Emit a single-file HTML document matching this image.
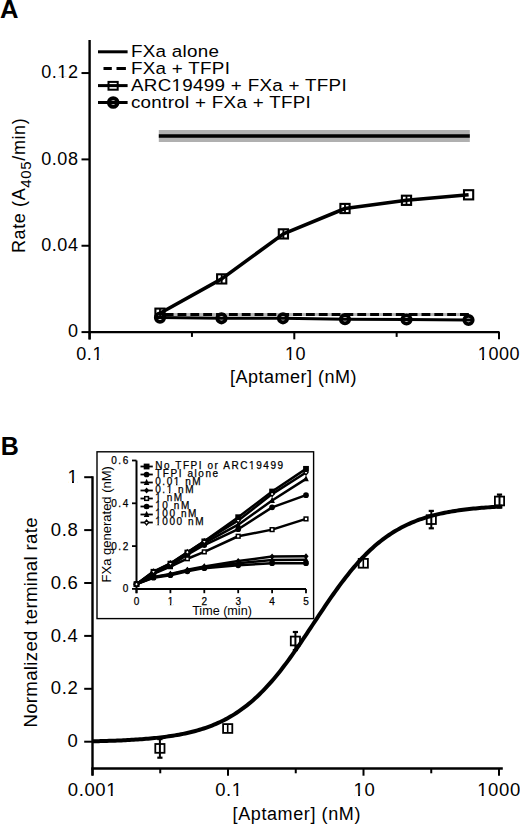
<!DOCTYPE html>
<html><head><meta charset="utf-8"><style>
html,body{margin:0;padding:0;background:#fff;}
body{width:520px;height:824px;overflow:hidden;}
svg{display:block;font-family:"Liberation Sans", sans-serif;}
text{fill:#000;}
</style></head><body>
<svg width="520" height="824" viewBox="0 0 520 824">
<defs><clipPath id="ct1" clipPathUnits="userSpaceOnUse"><path clip-rule="evenodd" d="M-2000,-2000 H4000 V4000 H-2000 Z M58.04,76.31 H61.74 V79.45 H58.04 Z M63.63,76.31 H67.20 V79.45 H63.63 Z"/></clipPath><clipPath id="ct2" clipPathUnits="userSpaceOnUse"><path clip-rule="evenodd" d="M-2000,-2000 H4000 V4000 H-2000 Z M93.06,357.76 H96.77 V360.90 H93.06 Z M98.66,357.76 H102.22 V360.90 H98.66 Z"/></clipPath><clipPath id="ct3" clipPathUnits="userSpaceOnUse"><path clip-rule="evenodd" d="M-2000,-2000 H4000 V4000 H-2000 Z M285.65,357.76 H289.36 V360.90 H285.65 Z M291.25,357.76 H294.81 V360.90 H291.25 Z"/></clipPath><clipPath id="ct4" clipPathUnits="userSpaceOnUse"><path clip-rule="evenodd" d="M-2000,-2000 H4000 V4000 H-2000 Z M478.44,357.76 H482.15 V360.90 H478.44 Z M484.04,357.76 H487.61 V360.90 H484.04 Z"/></clipPath><clipPath id="ctl" clipPathUnits="userSpaceOnUse"><path clip-rule="evenodd" d="M-2000,-2000 H4000 V4000 H-2000 Z M37.68,-1.78 H41.25 V1.30 H37.68 Z M43.07,-1.78 H46.50 V1.30 H43.07 Z"/></clipPath><clipPath id="ct5" clipPathUnits="userSpaceOnUse"><path clip-rule="evenodd" d="M-2000,-2000 H4000 V4000 H-2000 Z M68.22,480.92 H72.01 V484.10 H68.22 Z M73.95,480.92 H77.59 V484.10 H73.95 Z"/></clipPath><clipPath id="ct6" clipPathUnits="userSpaceOnUse"><path clip-rule="evenodd" d="M-2000,-2000 H4000 V4000 H-2000 Z M106.97,793.72 H110.76 V796.90 H106.97 Z M112.69,793.72 H116.34 V796.90 H112.69 Z"/></clipPath><clipPath id="ct7" clipPathUnits="userSpaceOnUse"><path clip-rule="evenodd" d="M-2000,-2000 H4000 V4000 H-2000 Z M232.57,793.72 H236.36 V796.90 H232.57 Z M238.30,793.72 H241.94 V796.90 H238.30 Z"/></clipPath><clipPath id="ct8" clipPathUnits="userSpaceOnUse"><path clip-rule="evenodd" d="M-2000,-2000 H4000 V4000 H-2000 Z M354.32,793.72 H358.11 V796.90 H354.32 Z M360.05,793.72 H363.69 V796.90 H360.05 Z"/></clipPath><clipPath id="ct9" clipPathUnits="userSpaceOnUse"><path clip-rule="evenodd" d="M-2000,-2000 H4000 V4000 H-2000 Z M477.93,793.72 H481.72 V796.90 H477.93 Z M483.66,793.72 H487.30 V796.90 H483.66 Z"/></clipPath><clipPath id="ct10" clipPathUnits="userSpaceOnUse"><path clip-rule="evenodd" d="M-2000,-2000 H4000 V4000 H-2000 Z M167.70,603.80 H169.93 V605.80 H167.70 Z M171.26,603.80 H173.41 V605.80 H171.26 Z"/></clipPath><clipPath id="ct11" clipPathUnits="userSpaceOnUse"><path clip-rule="evenodd" d="M-2000,-2000 H4000 V4000 H-2000 Z M249.15,467.70 H251.39 V469.70 H249.15 Z M252.71,467.70 H254.86 V469.70 H252.71 Z"/></clipPath><clipPath id="ct12" clipPathUnits="userSpaceOnUse"><path clip-rule="evenodd" d="M-2000,-2000 H4000 V4000 H-2000 Z M173.84,483.70 H176.07 V485.70 H173.84 Z M177.40,483.70 H179.55 V485.70 H177.40 Z"/></clipPath><clipPath id="ct13" clipPathUnits="userSpaceOnUse"><path clip-rule="evenodd" d="M-2000,-2000 H4000 V4000 H-2000 Z M166.71,491.70 H168.95 V493.70 H166.71 Z M170.27,491.70 H172.43 V493.70 H170.27 Z"/></clipPath><clipPath id="ct14" clipPathUnits="userSpaceOnUse"><path clip-rule="evenodd" d="M-2000,-2000 H4000 V4000 H-2000 Z M155.26,499.70 H157.49 V501.70 H155.26 Z M158.82,499.70 H160.97 V501.70 H158.82 Z"/></clipPath><clipPath id="ct15" clipPathUnits="userSpaceOnUse"><path clip-rule="evenodd" d="M-2000,-2000 H4000 V4000 H-2000 Z M155.26,507.70 H157.49 V509.70 H155.26 Z M158.82,507.70 H160.97 V509.70 H158.82 Z"/></clipPath><clipPath id="ct16" clipPathUnits="userSpaceOnUse"><path clip-rule="evenodd" d="M-2000,-2000 H4000 V4000 H-2000 Z M155.26,515.70 H157.49 V517.70 H155.26 Z M158.82,515.70 H160.97 V517.70 H158.82 Z"/></clipPath><clipPath id="ct17" clipPathUnits="userSpaceOnUse"><path clip-rule="evenodd" d="M-2000,-2000 H4000 V4000 H-2000 Z M155.26,523.70 H157.49 V525.70 H155.26 Z M158.82,523.70 H160.97 V525.70 H158.82 Z"/></clipPath></defs>
<rect width="520" height="824" fill="#fff"/>
<text x="0.1" y="17.8" font-size="25.6" text-anchor="start" letter-spacing="0" font-weight="bold" >A</text>
<line x1="89.6" y1="40" x2="89.6" y2="339.5" stroke="#000" stroke-width="2.4" />
<line x1="88.39999999999999" y1="332.1" x2="499.5" y2="332.1" stroke="#000" stroke-width="2.4" />
<line x1="81.5" y1="332.1" x2="89.6" y2="332.1" stroke="#000" stroke-width="2" />
<text x="78.6" y="337.20000000000005" font-size="18" text-anchor="end" letter-spacing="0.6" font-weight="normal" >0</text>
<line x1="81.5" y1="245.75000000000003" x2="89.6" y2="245.75000000000003" stroke="#000" stroke-width="2" />
<text x="78.6" y="250.85000000000002" font-size="18" text-anchor="end" letter-spacing="0.6" font-weight="normal" >0.04</text>
<line x1="81.5" y1="159.40000000000003" x2="89.6" y2="159.40000000000003" stroke="#000" stroke-width="2" />
<text x="78.6" y="164.50000000000003" font-size="18" text-anchor="end" letter-spacing="0.6" font-weight="normal" >0.08</text>
<line x1="81.5" y1="73.05000000000007" x2="89.6" y2="73.05000000000007" stroke="#000" stroke-width="2" />
<text x="78.6" y="78.15000000000006" font-size="18" text-anchor="end" letter-spacing="0.6" font-weight="normal"  id="t1" clip-path="url(#ct1)">0.12</text>
<line x1="89.6" y1="332.1" x2="89.6" y2="339.3" stroke="#000" stroke-width="2" />
<text x="89.6" y="359.6" font-size="18" text-anchor="middle" letter-spacing="0.6" font-weight="normal"  id="t2" clip-path="url(#ct2)">0.1</text>
<line x1="191.95" y1="332.1" x2="191.95" y2="336.90000000000003" stroke="#000" stroke-width="2" />
<line x1="294.29999999999995" y1="332.1" x2="294.29999999999995" y2="339.3" stroke="#000" stroke-width="2" />
<text x="295.59999999999997" y="359.6" font-size="18" text-anchor="middle" letter-spacing="0.6" font-weight="normal"  id="t3" clip-path="url(#ct3)">10</text>
<line x1="396.65" y1="332.1" x2="396.65" y2="336.90000000000003" stroke="#000" stroke-width="2" />
<line x1="499.0" y1="332.1" x2="499.0" y2="339.3" stroke="#000" stroke-width="2" />
<text x="499.0" y="359.6" font-size="18" text-anchor="middle" letter-spacing="0.6" font-weight="normal"  id="t4" clip-path="url(#ct4)">1000</text>
<text x="293.5" y="383" font-size="18" text-anchor="middle" letter-spacing="0.5" font-weight="normal" >[Aptamer] (nM)</text>
<text transform="translate(25.4,253) rotate(-90)" font-size="18" letter-spacing="0.62">Rate (A<tspan font-size="15" dy="5.4">405</tspan><tspan dy="-5.4">/min)</tspan></text>
<line x1="98" y1="51.8" x2="127.6" y2="51.8" stroke="#000" stroke-width="3" />
<line x1="103.5" y1="68.6" x2="126" y2="68.6" stroke="#000" stroke-width="3" stroke-dasharray="8.3 4.7 9.4 10"/>
<line x1="98" y1="85.6" x2="127.6" y2="85.6" stroke="#000" stroke-width="3" />
<rect x="108.5" y="81.89999999999999" width="9.2" height="7.8" fill="none" stroke="#000" stroke-width="2"/>
<line x1="98" y1="102.5" x2="127.6" y2="102.5" stroke="#000" stroke-width="3" />
<circle cx="113.2" cy="102.5" r="4.3" fill="none" stroke="#000" stroke-width="4"/>
<text transform="translate(130.9,57.099999999999994) scale(1.095,1)" font-size="17.2" letter-spacing="0.27">FXa alone</text>
<text transform="translate(130.9,73.89999999999999) scale(1.095,1)" font-size="17.2" letter-spacing="0.27">FXa + TFPI</text>
<text transform="translate(130.9,90.89999999999999) scale(1.095,1)" font-size="17.2" letter-spacing="0.27" id="tl" clip-path="url(#ctl)">ARC19499 + FXa + TFPI</text>
<text transform="translate(130.9,107.8) scale(1.095,1)" font-size="17.2" letter-spacing="0.27">control + FXa + TFPI</text>
<rect x="158.8" y="130" width="311" height="12" fill="#b0b0b0"/>
<line x1="158.8" y1="136" x2="469.8" y2="136" stroke="#000" stroke-width="3.6" />
<line x1="160" y1="314.6" x2="468.8" y2="314.6" stroke="#b8b8b8" stroke-width="3" />
<line x1="160" y1="314.6" x2="468.8" y2="314.6" stroke="#000" stroke-width="3" stroke-dasharray="8.84 4" stroke-dashoffset="8.14"/>
<polyline points="156.50,317.50 160.00,317.60 221.50,318.30 283.00,318.30 345.00,319.20 406.50,319.50 468.50,320.00 472.00,320.10" fill="none" stroke="#000" stroke-width="3" stroke-linejoin="round" />
<circle cx="160" cy="317.6" r="4.2" fill="none" stroke="#000" stroke-width="3.8"/>
<circle cx="221.5" cy="318.3" r="4.2" fill="none" stroke="#000" stroke-width="3.8"/>
<circle cx="283" cy="318.3" r="4.2" fill="none" stroke="#000" stroke-width="3.8"/>
<circle cx="345" cy="319.2" r="4.2" fill="none" stroke="#000" stroke-width="3.8"/>
<circle cx="406.5" cy="319.5" r="4.2" fill="none" stroke="#000" stroke-width="3.8"/>
<circle cx="468.5" cy="320" r="4.2" fill="none" stroke="#000" stroke-width="3.8"/>
<polyline points="160.00,313.20 221.70,278.90 283.40,233.90 345.00,208.50 406.50,200.30 468.60,194.80" fill="none" stroke="#000" stroke-width="3.6" stroke-linejoin="round" />
<rect x="155.4" y="308.59999999999997" width="9.2" height="9.2" fill="none" stroke="#000" stroke-width="2.1"/>
<line x1="160" y1="308.59999999999997" x2="160" y2="317.8" stroke="#000" stroke-width="1.8" />
<rect x="217.1" y="274.29999999999995" width="9.2" height="9.2" fill="none" stroke="#000" stroke-width="2.1"/>
<line x1="221.7" y1="274.29999999999995" x2="221.7" y2="283.5" stroke="#000" stroke-width="1.8" />
<rect x="278.79999999999995" y="229.3" width="9.2" height="9.2" fill="none" stroke="#000" stroke-width="2.1"/>
<line x1="283.4" y1="229.3" x2="283.4" y2="238.5" stroke="#000" stroke-width="1.8" />
<rect x="340.4" y="203.9" width="9.2" height="9.2" fill="none" stroke="#000" stroke-width="2.1"/>
<line x1="345" y1="203.9" x2="345" y2="213.1" stroke="#000" stroke-width="1.8" />
<rect x="401.9" y="195.70000000000002" width="9.2" height="9.2" fill="none" stroke="#000" stroke-width="2.1"/>
<line x1="406.5" y1="195.70000000000002" x2="406.5" y2="204.9" stroke="#000" stroke-width="1.8" />
<rect x="464.0" y="190.20000000000002" width="9.2" height="9.2" fill="none" stroke="#000" stroke-width="2.1"/>
<text x="0.8" y="454.6" font-size="25" text-anchor="start" letter-spacing="0" font-weight="bold" >B</text>
<line x1="92.5" y1="476.2" x2="92.5" y2="775.6" stroke="#000" stroke-width="2.4" />
<line x1="91.3" y1="768.5" x2="502.8" y2="768.5" stroke="#000" stroke-width="2.4" />
<line x1="84.2" y1="741.7" x2="92.5" y2="741.7" stroke="#000" stroke-width="2" />
<text x="78.4" y="747.3000000000001" font-size="18.5" text-anchor="end" letter-spacing="0.6" font-weight="normal" >0</text>
<line x1="84.2" y1="688.8000000000001" x2="92.5" y2="688.8000000000001" stroke="#000" stroke-width="2" />
<text x="78.4" y="694.4000000000001" font-size="18.5" text-anchor="end" letter-spacing="0.6" font-weight="normal" >0.2</text>
<line x1="84.2" y1="635.9000000000001" x2="92.5" y2="635.9000000000001" stroke="#000" stroke-width="2" />
<text x="78.4" y="641.5000000000001" font-size="18.5" text-anchor="end" letter-spacing="0.6" font-weight="normal" >0.4</text>
<line x1="84.2" y1="583.0" x2="92.5" y2="583.0" stroke="#000" stroke-width="2" />
<text x="78.4" y="588.6" font-size="18.5" text-anchor="end" letter-spacing="0.6" font-weight="normal" >0.6</text>
<line x1="84.2" y1="530.1" x2="92.5" y2="530.1" stroke="#000" stroke-width="2" />
<text x="78.4" y="535.7" font-size="18.5" text-anchor="end" letter-spacing="0.6" font-weight="normal" >0.8</text>
<line x1="84.2" y1="477.20000000000005" x2="92.5" y2="477.20000000000005" stroke="#000" stroke-width="2" />
<text x="78.4" y="482.80000000000007" font-size="18.5" text-anchor="end" letter-spacing="0.6" font-weight="normal"  id="t5" clip-path="url(#ct5)">1</text>
<line x1="92.5" y1="768.5" x2="92.5" y2="775.7" stroke="#000" stroke-width="2" />
<text x="92.5" y="795.6" font-size="18.5" text-anchor="middle" letter-spacing="0.6" font-weight="normal"  id="t6" clip-path="url(#ct6)">0.001</text>
<line x1="160.25" y1="768.5" x2="160.25" y2="773.3" stroke="#000" stroke-width="2" />
<line x1="228.0" y1="768.5" x2="228.0" y2="775.7" stroke="#000" stroke-width="2" />
<text x="229.0" y="795.6" font-size="18.5" text-anchor="middle" letter-spacing="0.6" font-weight="normal"  id="t7" clip-path="url(#ct7)">0.1</text>
<line x1="295.75" y1="768.5" x2="295.75" y2="773.3" stroke="#000" stroke-width="2" />
<line x1="363.5" y1="768.5" x2="363.5" y2="775.7" stroke="#000" stroke-width="2" />
<text x="364.5" y="795.6" font-size="18.5" text-anchor="middle" letter-spacing="0.6" font-weight="normal"  id="t8" clip-path="url(#ct8)">10</text>
<line x1="431.25" y1="768.5" x2="431.25" y2="773.3" stroke="#000" stroke-width="2" />
<line x1="499.0" y1="768.5" x2="499.0" y2="775.7" stroke="#000" stroke-width="2" />
<text x="499.0" y="795.6" font-size="18.5" text-anchor="middle" letter-spacing="0.6" font-weight="normal"  id="t9" clip-path="url(#ct9)">1000</text>
<text x="296.8" y="819.5" font-size="18" text-anchor="middle" letter-spacing="0.6" font-weight="normal" >[Aptamer] (nM)</text>
<text transform="translate(37.2,727.6) rotate(-90)" font-size="18.6" letter-spacing="0.33">Normalized terminal rate</text>
<polyline points="92.50,741.30 94.56,741.25 96.62,741.20 98.68,741.15 100.74,741.10 102.80,741.04 104.86,740.98 106.92,740.92 108.97,740.86 111.03,740.79 113.09,740.71 115.15,740.64 117.21,740.56 119.27,740.47 121.33,740.38 123.39,740.29 125.45,740.19 127.51,740.08 129.57,739.97 131.63,739.86 133.69,739.73 135.75,739.61 137.80,739.47 139.86,739.33 141.92,739.18 143.98,739.02 146.04,738.85 148.10,738.68 150.16,738.49 152.22,738.30 154.28,738.10 156.34,737.88 158.40,737.66 160.46,737.42 162.52,737.17 164.58,736.91 166.63,736.64 168.69,736.35 170.75,736.04 172.81,735.72 174.87,735.39 176.93,735.03 178.99,734.66 181.05,734.27 183.11,733.86 185.17,733.44 187.23,732.98 189.29,732.51 191.35,732.02 193.41,731.49 195.46,730.95 197.52,730.38 199.58,729.77 201.64,729.15 203.70,728.49 205.76,727.80 207.82,727.07 209.88,726.32 211.94,725.52 214.00,724.69 216.06,723.83 218.12,722.92 220.18,721.98 222.24,720.99 224.29,719.95 226.35,718.88 228.41,717.75 230.47,716.58 232.53,715.36 234.59,714.09 236.65,712.77 238.71,711.39 240.77,709.96 242.83,708.48 244.89,706.93 246.95,705.33 249.01,703.67 251.07,701.95 253.13,700.17 255.18,698.33 257.24,696.43 259.30,694.46 261.36,692.43 263.42,690.34 265.48,688.19 267.54,685.97 269.60,683.69 271.66,681.35 273.72,678.95 275.78,676.49 277.84,673.97 279.90,671.40 281.96,668.77 284.01,666.08 286.07,663.35 288.13,660.57 290.19,657.74 292.25,654.86 294.31,651.95 296.37,649.00 298.43,646.02 300.49,643.01 302.55,639.97 304.61,636.90 306.67,633.82 308.73,630.73 310.79,627.63 312.84,624.52 314.90,621.40 316.96,618.30 319.02,615.19 321.08,612.10 323.14,609.03 325.20,605.97 327.26,602.94 329.32,599.93 331.38,596.96 333.44,594.02 335.50,591.12 337.56,588.25 339.62,585.44 341.67,582.67 343.73,579.95 345.79,577.28 347.85,574.66 349.91,572.10 351.97,569.60 354.03,567.15 356.09,564.77 358.15,562.44 360.21,560.18 362.27,557.98 364.33,555.85 366.39,553.77 368.45,551.76 370.51,549.81 372.56,547.92 374.62,546.10 376.68,544.33 378.74,542.63 380.80,540.99 382.86,539.40 384.92,537.87 386.98,536.40 389.04,534.99 391.10,533.62 393.16,532.31 395.22,531.06 397.28,529.85 399.34,528.69 401.39,527.58 403.45,526.52 405.51,525.50 407.57,524.52 409.63,523.58 411.69,522.69 413.75,521.83 415.81,521.01 417.87,520.23 419.93,519.48 421.99,518.77 424.05,518.09 426.11,517.43 428.17,516.81 430.22,516.22 432.28,515.65 434.34,515.11 436.40,514.60 438.46,514.11 440.52,513.64 442.58,513.20 444.64,512.77 446.70,512.37 448.76,511.99 450.82,511.62 452.88,511.27 454.94,510.94 457.00,510.63 459.05,510.33 461.11,510.04 463.17,509.77 465.23,509.51 467.29,509.26 469.35,509.03 471.41,508.81 473.47,508.60 475.53,508.40 477.59,508.21 479.65,508.02 481.71,507.85 483.77,507.69 485.83,507.53 487.88,507.38 489.94,507.24 492.00,507.11 494.06,506.98 496.12,506.86 498.18,506.75 500.24,506.64 502.30,506.54" fill="none" stroke="#000" stroke-width="4" stroke-linejoin="round" />
<line x1="159.9" y1="739.1" x2="159.9" y2="757.6999999999999" stroke="#000" stroke-width="2" />
<line x1="157.3" y1="739.1" x2="162.5" y2="739.1" stroke="#000" stroke-width="2.2" />
<line x1="157.3" y1="757.6999999999999" x2="162.5" y2="757.6999999999999" stroke="#000" stroke-width="2.2" />
<rect x="155.3" y="744.0" width="9.2" height="8.8" fill="none" stroke="#000" stroke-width="1.8"/>
<rect x="223.1" y="724.1" width="9.2" height="8.8" fill="none" stroke="#000" stroke-width="1.8"/>
<line x1="227.7" y1="724.1" x2="227.7" y2="732.9" stroke="#000" stroke-width="1.6" />
<line x1="295.4" y1="632" x2="295.4" y2="650" stroke="#000" stroke-width="2" />
<line x1="292.79999999999995" y1="632" x2="298.0" y2="632" stroke="#000" stroke-width="2.2" />
<line x1="292.79999999999995" y1="650" x2="298.0" y2="650" stroke="#000" stroke-width="2.2" />
<rect x="290.79999999999995" y="636.6" width="9.2" height="8.8" fill="none" stroke="#000" stroke-width="1.8"/>
<rect x="358.7" y="558.9" width="9.2" height="8.8" fill="none" stroke="#000" stroke-width="1.8"/>
<line x1="363.3" y1="558.9" x2="363.3" y2="567.6999999999999" stroke="#000" stroke-width="1.6" />
<line x1="431.3" y1="510.90000000000003" x2="431.3" y2="528.3000000000001" stroke="#000" stroke-width="2" />
<line x1="428.7" y1="510.90000000000003" x2="433.90000000000003" y2="510.90000000000003" stroke="#000" stroke-width="2.2" />
<line x1="428.7" y1="528.3000000000001" x2="433.90000000000003" y2="528.3000000000001" stroke="#000" stroke-width="2.2" />
<rect x="426.7" y="515.2" width="9.2" height="8.8" fill="none" stroke="#000" stroke-width="1.8"/>
<line x1="499.5" y1="494.6" x2="499.5" y2="507.4" stroke="#000" stroke-width="2" />
<line x1="496.9" y1="494.6" x2="502.1" y2="494.6" stroke="#000" stroke-width="2.2" />
<line x1="496.9" y1="507.4" x2="502.1" y2="507.4" stroke="#000" stroke-width="2.2" />
<rect x="494.9" y="496.6" width="9.2" height="8.8" fill="none" stroke="#000" stroke-width="1.8"/>
<rect x="97" y="451.8" width="216.6" height="166.8" fill="#fff" stroke="#000" stroke-width="1.4"/>
<line x1="136.5" y1="460.5" x2="136.5" y2="593.2" stroke="#000" stroke-width="2" />
<line x1="135.5" y1="588.9" x2="306" y2="588.9" stroke="#000" stroke-width="2" />
<line x1="132" y1="588.9" x2="136.5" y2="588.9" stroke="#000" stroke-width="1.8" />
<text x="129.8" y="592.4" font-size="10" text-anchor="end" letter-spacing="1.55" font-weight="normal" stroke="#000" stroke-width="0.25">0</text>
<line x1="132" y1="546.1" x2="136.5" y2="546.1" stroke="#000" stroke-width="1.8" />
<text x="129.8" y="549.6" font-size="10" text-anchor="end" letter-spacing="1.55" font-weight="normal" stroke="#000" stroke-width="0.25">0.2</text>
<line x1="132" y1="503.29999999999995" x2="136.5" y2="503.29999999999995" stroke="#000" stroke-width="1.8" />
<text x="129.8" y="506.79999999999995" font-size="10" text-anchor="end" letter-spacing="1.55" font-weight="normal" stroke="#000" stroke-width="0.25">0.4</text>
<line x1="132" y1="460.5" x2="136.5" y2="460.5" stroke="#000" stroke-width="1.8" />
<text x="129.8" y="464.0" font-size="10" text-anchor="end" letter-spacing="1.55" font-weight="normal" stroke="#000" stroke-width="0.25">0.6</text>
<line x1="136.5" y1="588.9" x2="136.5" y2="593.2" stroke="#000" stroke-width="1.8" />
<text x="137.3" y="604.9" font-size="10" text-anchor="middle" letter-spacing="1.55" font-weight="normal" stroke="#000" stroke-width="0.25">0</text>
<line x1="170.4" y1="588.9" x2="170.4" y2="593.2" stroke="#000" stroke-width="1.8" />
<text x="171.20000000000002" y="604.9" font-size="10" text-anchor="middle" letter-spacing="1.55" font-weight="normal" stroke="#000" stroke-width="0.25" id="t10" clip-path="url(#ct10)">1</text>
<line x1="204.3" y1="588.9" x2="204.3" y2="593.2" stroke="#000" stroke-width="1.8" />
<text x="205.10000000000002" y="604.9" font-size="10" text-anchor="middle" letter-spacing="1.55" font-weight="normal" stroke="#000" stroke-width="0.25">2</text>
<line x1="238.2" y1="588.9" x2="238.2" y2="593.2" stroke="#000" stroke-width="1.8" />
<text x="239.0" y="604.9" font-size="10" text-anchor="middle" letter-spacing="1.55" font-weight="normal" stroke="#000" stroke-width="0.25">3</text>
<line x1="272.1" y1="588.9" x2="272.1" y2="593.2" stroke="#000" stroke-width="1.8" />
<text x="272.90000000000003" y="604.9" font-size="10" text-anchor="middle" letter-spacing="1.55" font-weight="normal" stroke="#000" stroke-width="0.25">4</text>
<line x1="306.0" y1="588.9" x2="306.0" y2="593.2" stroke="#000" stroke-width="1.8" />
<text x="306.8" y="604.9" font-size="10" text-anchor="middle" letter-spacing="1.55" font-weight="normal" stroke="#000" stroke-width="0.25">5</text>
<text x="222" y="614.9" font-size="12.6" text-anchor="middle" letter-spacing="0" font-weight="normal" >Time (min)</text>
<text transform="translate(111.2,582.4) rotate(-90)" font-size="13">FXa generated (nM)</text>
<polyline points="136.50,584.19 153.45,577.77 170.40,575.20 187.35,571.35 204.30,568.14 238.20,565.36 272.10,563.22 306.00,563.22" fill="none" stroke="#000" stroke-width="2.5" stroke-linejoin="round" />
<polyline points="136.50,584.19 153.45,577.34 170.40,574.56 187.35,570.50 204.30,567.29 238.20,563.22 272.10,560.01 306.00,559.80" fill="none" stroke="#000" stroke-width="2.5" stroke-linejoin="round" />
<polyline points="136.50,584.19 153.45,576.92 170.40,573.92 187.35,569.85 204.30,566.43 238.20,561.08 272.10,556.59 306.00,556.37" fill="none" stroke="#000" stroke-width="2.5" stroke-linejoin="round" />
<polyline points="136.50,584.19 153.45,573.92 170.40,566.64 187.35,558.73 204.30,551.88 238.20,536.26 272.10,529.62 306.00,518.92" fill="none" stroke="#000" stroke-width="2.5" stroke-linejoin="round" />
<polyline points="136.50,584.19 153.45,573.06 170.40,565.79 187.35,554.66 204.30,545.03 238.20,529.19 272.10,507.37 306.00,495.17" fill="none" stroke="#000" stroke-width="2.5" stroke-linejoin="round" />
<polyline points="136.50,584.19 153.45,572.42 170.40,564.72 187.35,553.59 204.30,543.10 238.20,524.70 272.10,500.52 306.00,478.90" fill="none" stroke="#000" stroke-width="2.5" stroke-linejoin="round" />
<polyline points="136.50,584.19 153.45,571.78 170.40,563.65 187.35,552.52 204.30,541.39 238.20,517.21 272.10,491.53 306.00,468.85" fill="none" stroke="#000" stroke-width="2.5" stroke-linejoin="round" />
<polyline points="136.50,584.19 153.45,571.57 170.40,563.43 187.35,552.20 204.30,541.39 238.20,520.42 272.10,494.10 306.00,472.48" fill="none" stroke="#000" stroke-width="2.5" stroke-linejoin="round" />
<circle cx="136.5" cy="584.192" r="2.85" fill="#000"/>
<circle cx="153.45" cy="577.7719999999999" r="2.85" fill="#000"/>
<circle cx="170.4" cy="575.204" r="2.85" fill="#000"/>
<circle cx="187.35" cy="571.352" r="2.85" fill="#000"/>
<circle cx="204.3" cy="568.1419999999999" r="2.85" fill="#000"/>
<circle cx="238.2" cy="565.36" r="2.85" fill="#000"/>
<circle cx="272.1" cy="563.22" r="2.85" fill="#000"/>
<circle cx="306.0" cy="563.22" r="2.85" fill="#000"/>
<path d="M136.5,580.492 L139.3,586.592 L133.7,586.592 Z" fill="#000"/>
<path d="M153.45,573.6439999999999 L156.25,579.7439999999999 L150.64999999999998,579.7439999999999 Z" fill="#000"/>
<path d="M170.4,570.862 L173.20000000000002,576.962 L167.6,576.962 Z" fill="#000"/>
<path d="M187.35,566.7959999999999 L190.15,572.896 L184.54999999999998,572.896 Z" fill="#000"/>
<path d="M204.3,563.5859999999999 L207.10000000000002,569.6859999999999 L201.5,569.6859999999999 Z" fill="#000"/>
<path d="M238.2,559.52 L241.0,565.62 L235.39999999999998,565.62 Z" fill="#000"/>
<path d="M272.1,556.31 L274.90000000000003,562.41 L269.3,562.41 Z" fill="#000"/>
<path d="M306.0,556.0959999999999 L308.8,562.1959999999999 L303.2,562.1959999999999 Z" fill="#000"/>
<path d="M136.5,581.092 L139.1,584.192 L136.5,587.292 L133.9,584.192 Z" fill="#000"/>
<path d="M153.45,573.8159999999999 L156.04999999999998,576.9159999999999 L153.45,580.016 L150.85,576.9159999999999 Z" fill="#000"/>
<path d="M170.4,570.8199999999999 L173.0,573.92 L170.4,577.02 L167.8,573.92 Z" fill="#000"/>
<path d="M187.35,566.7539999999999 L189.95,569.8539999999999 L187.35,572.954 L184.75,569.8539999999999 Z" fill="#000"/>
<path d="M204.3,563.3299999999999 L206.9,566.43 L204.3,569.53 L201.70000000000002,566.43 Z" fill="#000"/>
<path d="M238.2,557.9799999999999 L240.79999999999998,561.0799999999999 L238.2,564.18 L235.6,561.0799999999999 Z" fill="#000"/>
<path d="M272.1,553.486 L274.70000000000005,556.586 L272.1,559.686 L269.5,556.586 Z" fill="#000"/>
<path d="M306.0,553.2719999999999 L308.6,556.372 L306.0,559.472 L303.4,556.372 Z" fill="#000"/>
<rect x="134.65" y="582.342" width="3.7" height="3.7" fill="#fff" stroke="#000" stroke-width="1.5"/>
<rect x="151.6" y="572.0699999999999" width="3.7" height="3.7" fill="#fff" stroke="#000" stroke-width="1.5"/>
<rect x="168.55" y="564.794" width="3.7" height="3.7" fill="#fff" stroke="#000" stroke-width="1.5"/>
<rect x="185.5" y="556.876" width="3.7" height="3.7" fill="#fff" stroke="#000" stroke-width="1.5"/>
<rect x="202.45000000000002" y="550.0279999999999" width="3.7" height="3.7" fill="#fff" stroke="#000" stroke-width="1.5"/>
<rect x="236.35" y="534.406" width="3.7" height="3.7" fill="#fff" stroke="#000" stroke-width="1.5"/>
<rect x="270.25" y="527.7719999999999" width="3.7" height="3.7" fill="#fff" stroke="#000" stroke-width="1.5"/>
<rect x="304.15" y="517.072" width="3.7" height="3.7" fill="#fff" stroke="#000" stroke-width="1.5"/>
<circle cx="136.5" cy="584.192" r="2.85" fill="#000"/>
<circle cx="153.45" cy="573.064" r="2.85" fill="#000"/>
<circle cx="170.4" cy="565.788" r="2.85" fill="#000"/>
<circle cx="187.35" cy="554.66" r="2.85" fill="#000"/>
<circle cx="204.3" cy="545.03" r="2.85" fill="#000"/>
<circle cx="238.2" cy="529.194" r="2.85" fill="#000"/>
<circle cx="272.1" cy="507.366" r="2.85" fill="#000"/>
<circle cx="306.0" cy="495.168" r="2.85" fill="#000"/>
<path d="M136.5,580.492 L139.3,586.592 L133.7,586.592 Z" fill="#000"/>
<path d="M153.45,568.722 L156.25,574.822 L150.64999999999998,574.822 Z" fill="#000"/>
<path d="M170.4,561.0179999999999 L173.20000000000002,567.1179999999999 L167.6,567.1179999999999 Z" fill="#000"/>
<path d="M187.35,549.8899999999999 L190.15,555.9899999999999 L184.54999999999998,555.9899999999999 Z" fill="#000"/>
<path d="M204.3,539.4039999999999 L207.10000000000002,545.5039999999999 L201.5,545.5039999999999 Z" fill="#000"/>
<path d="M238.2,520.9999999999999 L241.0,527.0999999999999 L235.39999999999998,527.0999999999999 Z" fill="#000"/>
<path d="M272.1,496.818 L274.90000000000003,502.91799999999995 L269.3,502.91799999999995 Z" fill="#000"/>
<path d="M306.0,475.204 L308.8,481.304 L303.2,481.304 Z" fill="#000"/>
<rect x="133.6" y="581.292" width="5.8" height="5.8" fill="#000"/>
<rect x="150.54999999999998" y="568.88" width="5.8" height="5.8" fill="#000"/>
<rect x="167.5" y="560.748" width="5.8" height="5.8" fill="#000"/>
<rect x="184.45" y="549.62" width="5.8" height="5.8" fill="#000"/>
<rect x="201.4" y="538.492" width="5.8" height="5.8" fill="#000"/>
<rect x="235.29999999999998" y="514.3100000000001" width="5.8" height="5.8" fill="#000"/>
<rect x="269.20000000000005" y="488.63" width="5.8" height="5.8" fill="#000"/>
<rect x="303.1" y="465.94599999999997" width="5.8" height="5.8" fill="#000"/>
<path d="M136.5,581.792 L138.5,584.192 L136.5,586.592 L134.5,584.192 Z" fill="#fff" stroke="#000" stroke-width="1.3"/>
<path d="M153.45,569.166 L155.45,571.566 L153.45,573.966 L151.45,571.566 Z" fill="#fff" stroke="#000" stroke-width="1.3"/>
<path d="M170.4,561.034 L172.4,563.434 L170.4,565.834 L168.4,563.434 Z" fill="#fff" stroke="#000" stroke-width="1.3"/>
<path d="M187.35,549.799 L189.35,552.199 L187.35,554.5989999999999 L185.35,552.199 Z" fill="#fff" stroke="#000" stroke-width="1.3"/>
<path d="M204.3,538.992 L206.3,541.3919999999999 L204.3,543.7919999999999 L202.3,541.3919999999999 Z" fill="#fff" stroke="#000" stroke-width="1.3"/>
<path d="M238.2,518.02 L240.2,520.42 L238.2,522.8199999999999 L236.2,520.42 Z" fill="#fff" stroke="#000" stroke-width="1.3"/>
<path d="M272.1,491.698 L274.1,494.09799999999996 L272.1,496.49799999999993 L270.1,494.09799999999996 Z" fill="#fff" stroke="#000" stroke-width="1.3"/>
<path d="M306.0,470.084 L308.0,472.484 L306.0,474.88399999999996 L304.0,472.484 Z" fill="#fff" stroke="#000" stroke-width="1.3"/>
<line x1="140.5" y1="466.5" x2="152.8" y2="466.5" stroke="#000" stroke-width="1.8" />
<rect x="143.7" y="463.6" width="5.8" height="5.8" fill="#000"/>
<text x="155.2" y="468.8" font-size="10" text-anchor="start" letter-spacing="1.56" font-weight="normal" stroke="#000" stroke-width="0.25" id="t11" clip-path="url(#ct11)">No TFPI or ARC19499</text>
<line x1="140.5" y1="474.5" x2="152.8" y2="474.5" stroke="#000" stroke-width="1.8" />
<circle cx="146.6" cy="474.5" r="2.85" fill="#000"/>
<text x="155.2" y="476.8" font-size="10" text-anchor="start" letter-spacing="1.56" font-weight="normal" stroke="#000" stroke-width="0.25">TFPI alone</text>
<line x1="140.5" y1="482.5" x2="152.8" y2="482.5" stroke="#000" stroke-width="1.8" />
<path d="M146.6,478.8 L149.4,484.9 L143.79999999999998,484.9 Z" fill="#000"/>
<text x="155.2" y="484.8" font-size="10" text-anchor="start" letter-spacing="1.56" font-weight="normal" stroke="#000" stroke-width="0.25" id="t12" clip-path="url(#ct12)">0.01 nM</text>
<line x1="140.5" y1="490.5" x2="152.8" y2="490.5" stroke="#000" stroke-width="1.8" />
<path d="M146.6,487.4 L149.2,490.5 L146.6,493.6 L144.0,490.5 Z" fill="#000"/>
<text x="155.2" y="492.8" font-size="10" text-anchor="start" letter-spacing="1.56" font-weight="normal" stroke="#000" stroke-width="0.25" id="t13" clip-path="url(#ct13)">0.1 nM</text>
<line x1="140.5" y1="498.5" x2="152.8" y2="498.5" stroke="#000" stroke-width="1.8" />
<rect x="144.75" y="496.65" width="3.7" height="3.7" fill="#fff" stroke="#000" stroke-width="1.5"/>
<text x="155.2" y="500.8" font-size="10" text-anchor="start" letter-spacing="1.56" font-weight="normal" stroke="#000" stroke-width="0.25" id="t14" clip-path="url(#ct14)">1 nM</text>
<line x1="140.5" y1="506.5" x2="152.8" y2="506.5" stroke="#000" stroke-width="1.8" />
<circle cx="146.6" cy="506.5" r="2.85" fill="#000"/>
<text x="155.2" y="508.8" font-size="10" text-anchor="start" letter-spacing="1.56" font-weight="normal" stroke="#000" stroke-width="0.25" id="t15" clip-path="url(#ct15)">10 nM</text>
<line x1="140.5" y1="514.5" x2="152.8" y2="514.5" stroke="#000" stroke-width="1.8" />
<path d="M146.6,510.8 L149.4,516.9 L143.79999999999998,516.9 Z" fill="#000"/>
<text x="155.2" y="516.8" font-size="10" text-anchor="start" letter-spacing="1.56" font-weight="normal" stroke="#000" stroke-width="0.25" id="t16" clip-path="url(#ct16)">100 nM</text>
<line x1="140.5" y1="522.5" x2="152.8" y2="522.5" stroke="#000" stroke-width="1.8" />
<path d="M146.6,520.1 L148.6,522.5 L146.6,524.9 L144.6,522.5 Z" fill="#fff" stroke="#000" stroke-width="1.3"/>
<text x="155.2" y="524.8" font-size="10" text-anchor="start" letter-spacing="1.56" font-weight="normal" stroke="#000" stroke-width="0.25" id="t17" clip-path="url(#ct17)">1000 nM</text>
</svg>
</body></html>
